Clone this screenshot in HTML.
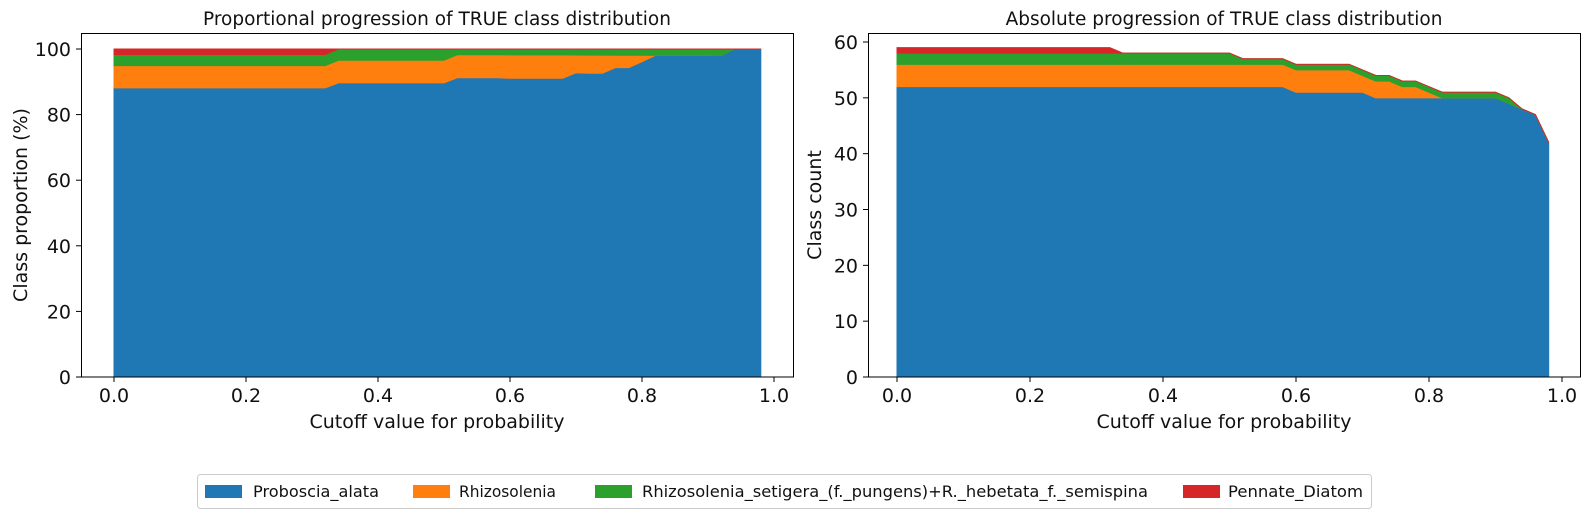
<!DOCTYPE html>
<html><head><meta charset="utf-8"><style>
body{margin:0;background:#fff}
svg{display:block;font-family:"DejaVu Sans","Liberation Sans",sans-serif}
</style></head><body>
<svg id="c" width="1589" height="524" viewBox="0 0 1589 524" xmlns="http://www.w3.org/2000/svg"></svg>
<script>
const cutoffs = Array.from({length:50},(_,i)=>+(i*0.02).toFixed(2));
const proboscia = [52,52,52,52,52,52,52,52,52,52,52,52,52,52,52,52,52, 52,52,52,52,52,52,52,52,52, 52,52,52,52, 51,51,51,51,51, 51, 50,50, 50,50, 50, 50,50,50,50,50, 49, 48, 47, 42];
const rhizosolenia = [4,4,4,4,4,4,4,4,4,4,4,4,4,4,4,4,4, 4,4,4,4,4,4,4,4,4, 4,4,4,4, 4,4,4,4,4, 3, 3,3, 2,2, 1, 0,0,0,0,0, 0, 0, 0, 0];
const setigera = [2,2,2,2,2,2,2,2,2,2,2,2,2,2,2,2,2, 2,2,2,2,2,2,2,2,2, 1,1,1,1, 1,1,1,1,1, 1, 1,1, 1,1, 1, 1,1,1,1,1, 1, 0, 0, 0];
const pennate = [1,1,1,1,1,1,1,1,1,1,1,1,1,1,1,1,1, 0,0,0,0,0,0,0,0,0, 0,0,0,0, 0,0,0,0,0, 0, 0,0, 0,0, 0, 0,0,0,0,0, 0, 0, 0, 0];
const seriesNames = ["Proboscia_alata","Rhizosolenia","Rhizosolenia_setigera_(f._pungens)+R._hebetata_f._semispina","Pennate_Diatom"];
const colors = ["#1f77b4","#ff7f0e","#2ca02c","#d62728"];
const xTicks = [0,0.2,0.4,0.6,0.8,1.0];
const yTicksL = [0,20,40,60,80,100];
const yTicksR = [0,10,20,30,40,50,60];

const NS="http://www.w3.org/2000/svg";
const svg=document.getElementById('c');
function mk(tag,attrs,parent){const e=document.createElementNS(NS,tag);for(const k in attrs)e.setAttribute(k,attrs[k]);(parent||svg).appendChild(e);return e;}
const series=[proboscia,rhizosolenia,setigera,pennate];

function panel(opt){
  const g=mk('g',{});
  
  
  const X=v=>opt.x0+v*(opt.x1-opt.x0);
  const Y=v=>opt.y0-v*(opt.y0-opt.yTop)/opt.yMax;
  const vals=series.map(s=>s.map((v,i)=>opt.prop? v/(proboscia[i]+rhizosolenia[i]+setigera[i]+pennate[i])*100 : v));
  let base=cutoffs.map(()=>0);
  vals.forEach((s,k)=>{
    const top=base.map((b,i)=>b+s[i]);
    let d='M'+cutoffs.map((c,i)=>X(c).toFixed(2)+','+Y(top[i]).toFixed(2)).join('L');
    for(let i=cutoffs.length-1;i>=0;i--)d+='L'+X(cutoffs[i]).toFixed(2)+','+Y(base[i]).toFixed(2);
    d+='Z';
    const p=mk('path',{d:d,fill:colors[k],stroke:colors[k],'stroke-width':1},g);
    
    
    base=top;
  });
  const fr=mk('rect',{x:opt.ax0+0.5,y:33.5,width:opt.ax1-opt.ax0,height:opt.y0-33.5,fill:'none',stroke:'#000','stroke-width':1},g);
  
  
  xTicks.forEach(t=>{
    mk('line',{x1:X(t),x2:X(t),y1:opt.y0,y2:opt.y0+5,stroke:'#000'},g);
    const tx=mk('text',{x:X(t),y:402,'font-size':19,'text-anchor':'middle',fill:'#111'},g);
    tx.textContent=t.toFixed(1);
    
    
  });
  opt.yTicks.forEach(t=>{
    mk('line',{x1:opt.ax0-5,x2:opt.ax0,y1:Y(t),y2:Y(t),stroke:'#000'},g);
    const tx=mk('text',{x:opt.ax0-10,y:Y(t)+7,'font-size':19,'text-anchor':'end',fill:'#111'},g);
    tx.textContent=t;
    
    
  });
  const tt=mk('text',{x:(opt.ax0+opt.ax1)/2,y:25,'font-size':18.5,'text-anchor':'middle',fill:'#111'},g);
  tt.textContent=opt.title;
  
  
  const xl=mk('text',{x:(opt.ax0+opt.ax1)/2,y:428,'font-size':19,'text-anchor':'middle',fill:'#111'},g);
  xl.textContent='Cutoff value for probability';
  
  
  const yl=mk('text',{x:0,y:0,'font-size':19,'text-anchor':'middle',fill:'#111',transform:`translate(${opt.ylx},${(33+opt.y0)/2}) rotate(-90)`},g);
  yl.textContent=opt.ylabel;
  
  
}
panel({name:'proportional-chart',prop:true,x0:114,x1:774,ax0:81,ax1:793,y0:377,yTop:49,yMax:100,yTicks:yTicksL,title:'Proportional progression of TRUE class distribution',ylabel:'Class proportion (%)',ylx:27});
panel({name:'absolute-chart',prop:false,x0:897,x1:1562,ax0:868,ax1:1580,y0:377,yTop:42,yMax:60,yTicks:yTicksR,title:'Absolute progression of TRUE class distribution',ylabel:'Class count',ylx:821});

// legend
const lg=mk('g',{});


mk('rect',{x:197.5,y:474.5,width:1174,height:34,rx:3,fill:'#fff',stroke:'#ccc'},lg);
const patchX=[205,413,595,1183];
const textX=[253,459,642,1228];
const textW=[126,97,506,135];
seriesNames.forEach((n,k)=>{
  const e=mk('g',{},lg);
  
  
  mk('rect',{x:patchX[k],y:485,width:37,height:13,fill:colors[k]},e);
  const t=mk('text',{x:textX[k],y:497,'font-size':16,fill:'#111',textLength:textW[k],lengthAdjust:'spacingAndGlyphs'},e);
  t.textContent=n;
});
</script>
</body></html>
